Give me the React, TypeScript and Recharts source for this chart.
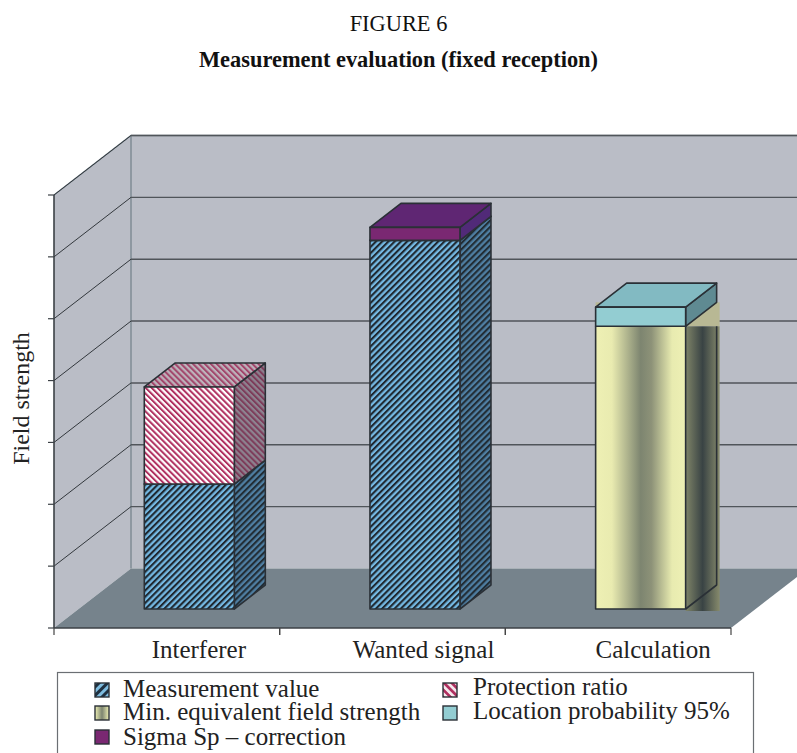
import React from 'react';
import { BarChart, Bar, XAxis, YAxis, Legend, ReferenceArea, ReferenceLine } from 'recharts';

// Chart values (one grid step = 1 unit)
const categories = ['Interferer', 'Wanted signal', 'Calculation'];
const measurementValue = [2.02, 5.96, 0];
const protectionRatio = [1.57, 0, 0];
const minEquivalent = [0, 0, 4.57];
const locationProbability = [0, 0, 0.31];
const sigmaCorrection = [0, 0.21, 0];
const yTicks = [0, 1, 2, 3, 4, 5, 6, 7];

const data = categories.map((name, i) => ({
  name,
  measurement: measurementValue[i],
  protection: protectionRatio[i],
  minEq: minEquivalent[i],
  location: locationProbability[i],
  sigma: sigmaCorrection[i],
}));

const WIDTH = 797;
const HEIGHT = 753;
const FONT = '"Liberation Serif", serif';
const INK = '#2a3036';

// Perspective of the box the bars stand in
const WALL_DX = 77;
const WALL_DY = -59.5;
const BAR_SHIFT_X = 22.3;
const BAR_SHIFT_Y = -19;
const BAR_DX = 31;
const BAR_DY = -24;
const LABEL_SHIFTS = [32, 31, 35];

interface FaceFills {
  front: string;
  top: string;
  side: string;
}

const FACES: Record<string, FaceFills> = {
  measurement: { front: 'url(#blueFront)', top: 'url(#blueSide)', side: 'url(#blueSide)' },
  protection: { front: 'url(#pinkFront)', top: 'url(#pinkTop)', side: 'url(#pinkSide)' },
  location: { front: '#93cdd2', top: '#82bac2', side: '#5f8a92' },
  sigma: { front: '#7a2872', top: '#5f2673', side: '#512a78' },
};

function pts(list: number[][]) {
  return list.map(p => p.join(',')).join(' ');
}

function Cuboid(props: any) {
  const { x, y, width, height, faces } = props;
  if (!height || height <= 0) return null;
  const l = x + BAR_SHIFT_X;
  const r = l + width;
  const t = y + BAR_SHIFT_Y;
  const b = t + height;
  const line = { stroke: INK, strokeWidth: 1.6, strokeLinejoin: 'round' as const };
  return (
    <g>
      <polygon points={pts([[r, b], [r + BAR_DX, b + BAR_DY], [r + BAR_DX, t + BAR_DY], [r, t]])} fill={faces.side} {...line} />
      <polygon points={pts([[l, t], [l + BAR_DX, t + BAR_DY], [r + BAR_DX, t + BAR_DY], [r, t]])} fill={faces.top} {...line} />
      <rect x={l} y={t} width={width} height={height} fill={faces.front} {...line} />
    </g>
  );
}

// The gradient bar: its side gradient overshoots the outline, as in the reference
function GradientCuboid(props: any) {
  const { x, y, width, height } = props;
  if (!height || height <= 0) return null;
  const l = x + BAR_SHIFT_X;
  const r = l + width;
  const t = y + BAR_SHIFT_Y;
  const b = t + height;
  const line = { stroke: INK, strokeWidth: 1.6, strokeLinejoin: 'round' as const };
  return (
    <g>
      <rect x={l} y={t + BAR_DY} width={width + BAR_DX + 3} height={-BAR_DY} fill="#b8b894" />
      <rect x={r} y={t} width={BAR_DX + 3} height={height + 2} fill="url(#yellowSide)" />
      <polyline points={pts([[r, b], [r + BAR_DX, b + BAR_DY], [r + BAR_DX, t]])} fill="none" {...line} />
      <rect x={l} y={t} width={width} height={height} fill="url(#yellowFront)" {...line} />
    </g>
  );
}

function Walls(props: any) {
  const { x, y, width, height } = props;
  const bottom = y + height;
  const backX = x + WALL_DX;
  const edge = '#7f8c95';
  return (
    <g>
      <rect x={backX} y={y + WALL_DY} width={width} height={height} fill="#babdc6" />
      <polygon points={pts([[x, y], [backX, y + WALL_DY], [backX, bottom + WALL_DY], [x, bottom]])} fill="#babdc6" />
      <polygon points={pts([[x, bottom], [backX, bottom + WALL_DY], [backX + width, bottom + WALL_DY], [x + width, bottom]])} fill="#76838c" />
      <polyline points={pts([[x, y], [backX, y + WALL_DY], [backX + width, y + WALL_DY]])} fill="none" stroke={edge} strokeWidth={1.5} />
      <line x1={backX} y1={y + WALL_DY} x2={backX} y2={bottom + WALL_DY} stroke={edge} strokeWidth={1.5} />
    </g>
  );
}

function GridShape(props: any) {
  const { x1, y1, x2 } = props;
  const backY = y1 + WALL_DY;
  return (
    <g>
      <line x1={x1} y1={y1} x2={x1 + WALL_DX} y2={backY} stroke="#33383d" strokeWidth={1} />
      <line x1={x1 + WALL_DX} y1={backY} x2={x2 + WALL_DX} y2={backY} stroke="#50555a" strokeWidth={1.4} />
    </g>
  );
}

// Ticks sit on the band edges, labels are pushed right towards the bars
function CategoryTick(props: any) {
  const { x, y, payload, width } = props;
  const band = width / categories.length;
  const axisY = y - 8;
  const shift = LABEL_SHIFTS[categories.indexOf(payload.value)] ?? 32;
  return (
    <g>
      <line x1={x - band / 2} y1={axisY} x2={x - band / 2} y2={axisY + 7} stroke="#444" strokeWidth={1.2} />
      <line x1={x + band / 2} y1={axisY} x2={x + band / 2} y2={axisY + 7} stroke="#444" strokeWidth={1.2} />
      <text x={x + shift} y={axisY + 30} textAnchor="middle" fontFamily={FONT} fontSize={25} fill="#222">
        {payload.value}
      </text>
    </g>
  );
}

const SWATCHES: Record<string, string> = {
  measurement: 'url(#blueSwatch)',
  protection: 'url(#pinkSwatch)',
  minEq: 'url(#yellowSwatch)',
  location: '#93cdd2',
  sigma: '#7a2872',
};

// Where each legend entry sits inside the box: [swatch x, swatch y, text x, baseline y]
const LEGEND_SLOTS: Record<string, number[]> = {
  measurement: [38, 11, 66, 25],
  minEq: [38, 34, 66, 48],
  sigma: [38, 58, 66, 73],
  protection: [386, 11, 416, 23],
  location: [386, 34, 416, 47],
};

function LegendBox({ payload }: any) {
  return (
    <svg width={700} height={81} style={{ position: 'absolute', left: 57, top: 4, display: 'block', overflow: 'visible' }}>
      <rect x={0.5} y={0.5} width={696} height={85} fill="#fff" stroke="#6b6f73" strokeWidth={1.2} />
      {(payload ?? []).map((entry: any) => {
        const slot = LEGEND_SLOTS[entry.dataKey];
        if (!slot) return null;
        return (
          <g key={entry.dataKey}>
            <rect x={slot[0]} y={slot[1]} width={14} height={14} fill={SWATCHES[entry.dataKey]} stroke={INK} strokeWidth={1.4} />
            <text x={slot[2]} y={slot[3]} fontFamily={FONT} fontSize={25} fill="#222">
              {entry.value}
            </text>
          </g>
        );
      })}
    </svg>
  );
}

function stripes(id: string, angle: number, period: number, band: number, light: string, dark: string) {
  return (
    <pattern id={id} patternUnits="userSpaceOnUse" width={period} height={period} patternTransform={`rotate(${angle})`}>
      <rect width={period} height={period} fill={light} />
      <rect width={band} height={period} fill={dark} />
    </pattern>
  );
}

export default function App() {
  return (
    <div style={{ position: 'absolute', left: 0, top: 0, width: WIDTH, height: HEIGHT, overflow: 'hidden', background: '#fff' }}>
      <div style={{ position: 'absolute', left: 0, right: 0, top: 11, textAlign: 'center', fontFamily: FONT, fontSize: 22.4, color: '#111' }}>
        FIGURE 6
      </div>
      <div style={{ position: 'absolute', left: 0, right: 0, top: 47, textAlign: 'center', fontFamily: FONT, fontSize: 22.4, fontWeight: 700, color: '#111' }}>
        Measurement evaluation (fixed reception)
      </div>
      <BarChart
        width={WIDTH}
        height={HEIGHT}
        data={data}
        margin={{ top: 195, right: 66, bottom: 0, left: 0 }}
        barSize={90}
        style={{ position: 'absolute', left: 0, top: 0 }}
      >
        <defs>
          {stripes('blueFront', 45, 4.4, 2.1, '#74b8e2', '#1f2830')}
          {stripes('blueSide', 45, 4.4, 2.1, '#4f7fa3', '#222d35')}
          {stripes('pinkFront', -45, 4.2, 2, '#ffffff', '#b03060')}
          {stripes('pinkTop', -45, 4.2, 2, '#bdb3bb', '#a2456b')}
          {stripes('pinkSide', -45, 4.2, 2, '#8d8390', '#7d3c5a')}
          {stripes('blueSwatch', 45, 6, 3, '#7fbde0', '#1f3040')}
          {stripes('pinkSwatch', -45, 5.4, 2.7, '#f4e8ec', '#b03060')}
          <linearGradient id="yellowFront" x1="0" x2="1" y1="0" y2="0">
            <stop offset="0" stopColor="#eef0b4" />
            <stop offset="0.18" stopColor="#e9ebb0" />
            <stop offset="0.5" stopColor="#7d8570" />
            <stop offset="0.62" stopColor="#8d9278" />
            <stop offset="0.85" stopColor="#e8ebb0" />
            <stop offset="1" stopColor="#eef0b4" />
          </linearGradient>
          <linearGradient id="yellowSide" x1="0" x2="1" y1="0" y2="0">
            <stop offset="0" stopColor="#7f8468" />
            <stop offset="0.5" stopColor="#394344" />
            <stop offset="1" stopColor="#868a6c" />
          </linearGradient>
          <linearGradient id="yellowSwatch" x1="0" x2="1" y1="0" y2="0">
            <stop offset="0" stopColor="#eef0b4" />
            <stop offset="0.5" stopColor="#7d8570" />
            <stop offset="1" stopColor="#eef0b4" />
          </linearGradient>
        </defs>
        <ReferenceArea y1={0} y2={7} shape={Walls} ifOverflow="visible" zIndex={50} />
        {yTicks.slice(1).map(t => (
          <ReferenceLine key={t} y={t} shape={GridShape} ifOverflow="visible" zIndex={60} />
        ))}
        <XAxis
          dataKey="name"
          height={40}
          axisLine={{ stroke: '#3c4146', strokeWidth: 1.6 }}
          tickLine={false}
          interval={0}
          tick={<CategoryTick />}
        />
        <YAxis
          width={54}
          domain={[0, 7]}
          ticks={yTicks}
          tickFormatter={() => ''}
          tickSize={6}
          axisLine={{ stroke: '#3c4146', strokeWidth: 1.6 }}
          tickLine={{ stroke: '#3c4146', strokeWidth: 1.2 }}
          label={{
            value: 'Field strength',
            angle: -90,
            position: 'insideLeft',
            dy: -13,
            dx: 15,
            style: { fontFamily: FONT, fontSize: 24, fill: '#222', textAnchor: 'middle' },
          }}
        />
        <Legend
          content={<LegendBox />}
          height={85}
          verticalAlign="bottom"
          wrapperStyle={{ left: 0, bottom: 0, width: WIDTH, height: 85 }}
        />
        <Bar dataKey="measurement" name="Measurement value" stackId="a" isAnimationActive={false} shape={<Cuboid faces={FACES.measurement} />} />
        <Bar dataKey="protection" name="Protection ratio" stackId="a" isAnimationActive={false} shape={<Cuboid faces={FACES.protection} />} />
        <Bar dataKey="minEq" name="Min. equivalent field strength" stackId="a" isAnimationActive={false} shape={<GradientCuboid />} />
        <Bar dataKey="location" name="Location probability 95%" stackId="a" isAnimationActive={false} shape={<Cuboid faces={FACES.location} />} />
        <Bar dataKey="sigma" name="Sigma Sp – correction" stackId="a" isAnimationActive={false} shape={<Cuboid faces={FACES.sigma} />} />
      </BarChart>
    </div>
  );
}
